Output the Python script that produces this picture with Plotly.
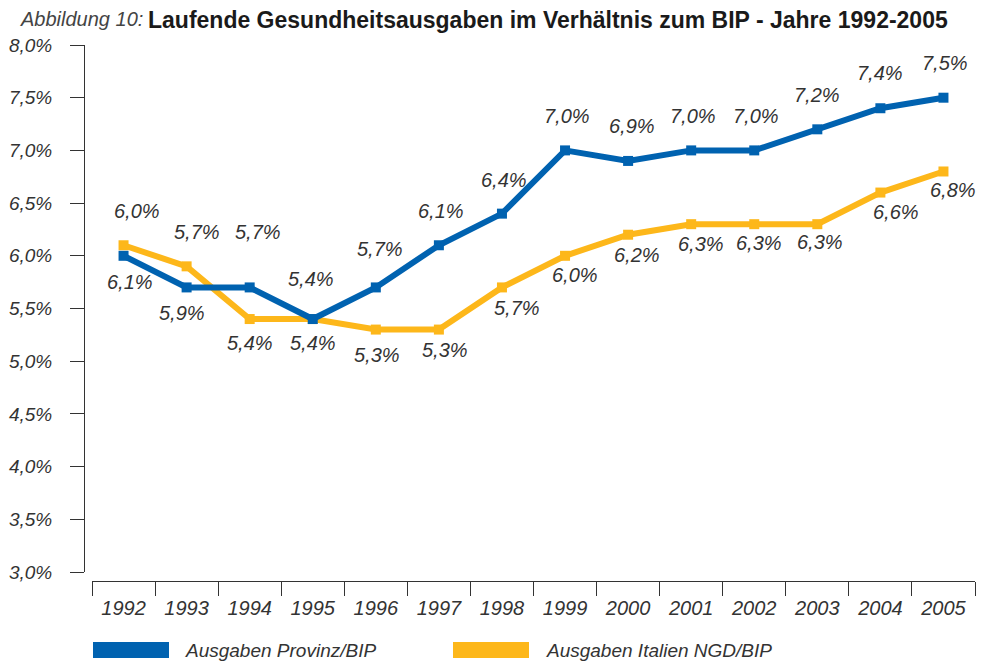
import plotly.graph_objects as go

years = ["1992", "1993", "1994", "1995", "1996", "1997", "1998",
         "1999", "2000", "2001", "2002", "2003", "2004", "2005"]
provinz = [6.0, 5.7, 5.7, 5.4, 5.7, 6.1, 6.4, 7.0, 6.9, 7.0, 7.0, 7.2, 7.4, 7.5]
italien = [6.1, 5.9, 5.4, 5.4, 5.3, 5.3, 5.7, 6.0, 6.2, 6.3, 6.3, 6.3, 6.6, 6.8]
name_provinz = "Ausgaben Provinz/BIP"
name_italien = "Ausgaben Italien NGD/BIP"
title_prefix = "Abbildung 10:"
title_main = "Laufende Gesundheitsausgaben im Verhältnis zum BIP - Jahre 1992-2005"
y_ticks = [3.0, 3.5, 4.0, 4.5, 5.0, 5.5, 6.0, 6.5, 7.0, 7.5, 8.0]

# label placement styling (pixel shifts)
prov_dy = [45, 55, 55, 40, 38, 34, 34, 34, 35, 34, 34, 34, 35, 35]
prov_dx = [13, 10, 8, -2, 4, 2, 2, 2, 4, 2, 2, 0, 0, 2]
ital_dy = [-37, -47, -24, -24, -25, -20, -21, -19, -20, -20, -19, -18, -19, -19]
ital_dx = [6, -5, 0, 0, 1, 6, 15, 10, 9, 10, 5, 3, 16, 10]

BLUE = "#0062B0"
ORANGE = "#FDB71A"
TXT = "#333333"
FONT = "Liberation Sans, Arial, sans-serif"

OFF = 8  # page body margin
W, H = 985 - OFF, 664 - OFF
L = 84 - OFF
T = 45 - OFF
R = W - (975 - OFF)
B = H - (581 - OFF)
pw = W - L - R
ph = H - T - B


def px_x(p):
    return (p - OFF - L) / pw


def px_y(p):
    return (H - B - (p - OFF)) / ph


def fmt(v):
    return ("%.1f" % v).replace(".", ",") + "%"


fig = go.Figure()
for vals, col, nm in [(italien, ORANGE, name_italien), (provinz, BLUE, name_provinz)]:
    fig.add_trace(go.Scatter(
        x=years, y=vals, mode="lines+markers", name=nm,
        line=dict(color=col, width=6),
        marker=dict(symbol="square", size=10, color=col),
        showlegend=False, cliponaxis=False))

for vals, dys, dxs in [(provinz, prov_dy, prov_dx), (italien, ital_dy, ital_dx)]:
    for i, (v, dy, dx) in enumerate(zip(vals, dys, dxs)):
        fig.add_annotation(x=i, y=v, xref="x", yref="y",
                           text="<i>" + fmt(v) + "</i>", showarrow=False,
                           yshift=dy, xshift=dx,
                           font=dict(family=FONT, size=20, color=TXT))

fig.update_layout(
    width=W, height=H,
    margin=dict(l=L, r=R, t=T, b=B, pad=0, autoexpand=False),
    paper_bgcolor="white", plot_bgcolor="white",
    font=dict(family=FONT, size=20, color=TXT),
    xaxis=dict(type="category", domain=[8 / pw, 1], anchor="free", position=0,
               range=[-0.5, 13.5], showline=True, linecolor="#333", linewidth=1,
               ticks="outside", tickson="boundaries", ticklen=14, tickcolor="#333",
               tickwidth=1, showgrid=False, zeroline=False, automargin=False,
               tickvals=years, ticktext=["<i>" + y + "</i>" for y in years],
               tickfont=dict(family=FONT, size=20, color=TXT), ticklabelstandoff=9),
    yaxis=dict(domain=[9 / ph, 1], anchor="free", position=0,
               range=[3, 8], automargin=False,
               tickvals=y_ticks, ticktext=["<i>" + fmt(v) + "</i>" for v in y_ticks],
               showline=True, linecolor="#333", linewidth=1,
               ticks="outside", ticklen=14, tickcolor="#333", tickwidth=1,
               showgrid=False, zeroline=False,
               tickfont=dict(family=FONT, size=19, color=TXT), ticklabelstandoff=14),
)

# title
fig.add_annotation(xref="paper", yref="paper", x=px_x(18), y=px_y(19),
                   xanchor="left", yanchor="middle", showarrow=False,
                   text="<i>" + title_prefix + "</i>",
                   font=dict(family=FONT, size=20, color="#444444"))
fig.add_annotation(xref="paper", yref="paper", x=px_x(146), y=px_y(20),
                   xanchor="left", yanchor="middle", showarrow=False,
                   text="<b>" + title_main + "</b>",
                   font=dict(family=FONT, size=23, color="#1a1a1a"))

# legend
for x0, x1, col, nm, tx in [(93, 169, BLUE, name_provinz, 183), (453, 529, ORANGE, name_italien, 544)]:
    fig.add_shape(type="rect", xref="paper", yref="paper",
                  x0=px_x(x0), x1=px_x(x1), y0=px_y(658), y1=px_y(642),
                  fillcolor=col, line=dict(width=0))
    fig.add_annotation(xref="paper", yref="paper", x=px_x(tx), y=px_y(650),
                       xanchor="left", yanchor="middle", showarrow=False,
                       text="<i>" + nm + "</i>",
                       font=dict(family=FONT, size=19, color=TXT))

fig.write_html("out.html")
